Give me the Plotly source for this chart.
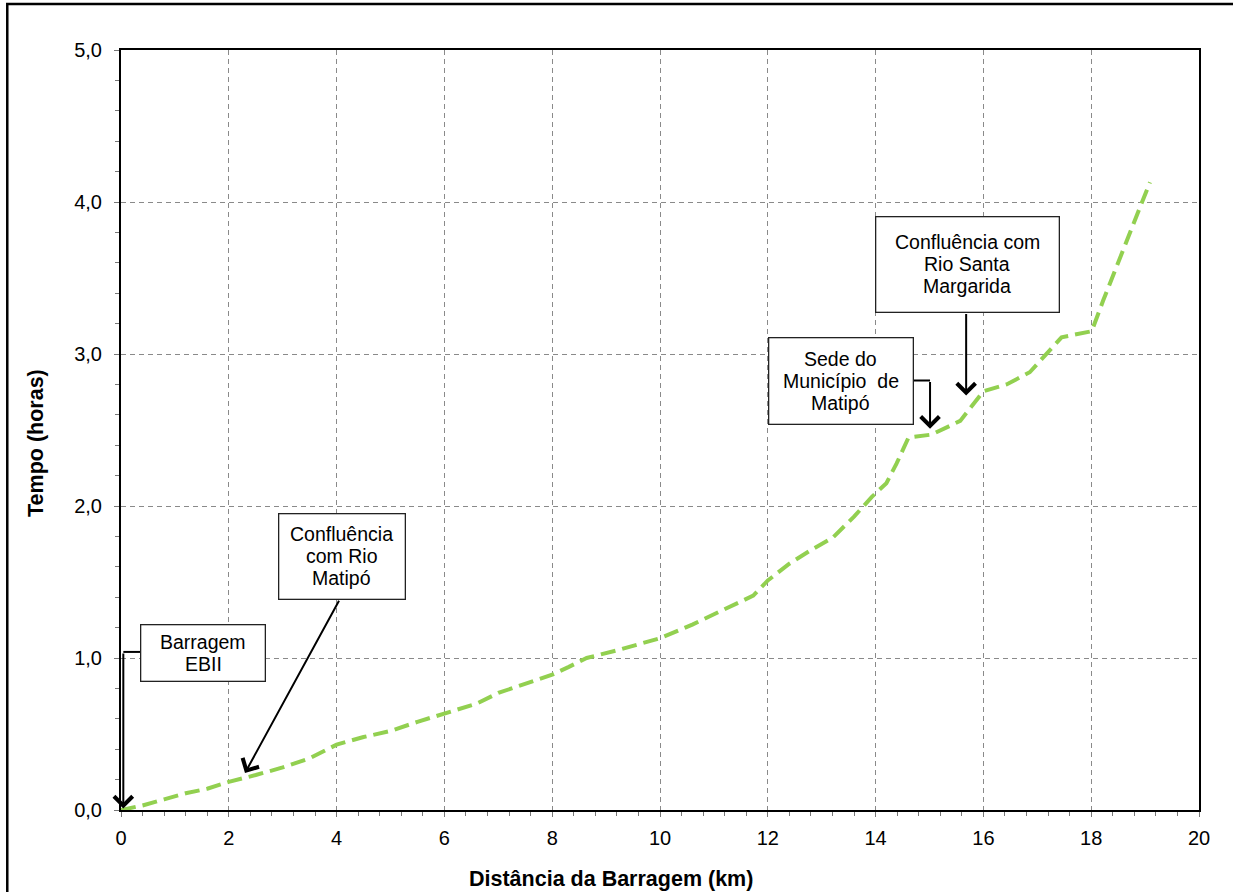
import plotly.graph_objects as go

# ---- data ----
dist_km = [0.0, 0.4, 0.8, 1.2, 1.6, 2.0, 2.5, 3.0, 3.5, 3.8, 4.0, 4.5, 5.0, 5.5, 6.0,
           6.6, 7.0, 7.5, 8.0, 8.3, 8.64, 9.2, 10.0, 10.6, 11.2, 11.73, 12.0, 12.4,
           12.8, 13.2, 13.6, 13.93, 14.2, 14.39, 14.61, 15.04, 15.57, 16.0, 16.43,
           16.86, 17.45, 18.01, 18.22, 18.94, 19.09]
tempo_h = [0.0, 0.03, 0.07, 0.11, 0.14, 0.185, 0.23, 0.28, 0.34, 0.39, 0.43, 0.48, 0.52,
           0.58, 0.635, 0.70, 0.77, 0.83, 0.89, 0.94, 1.00, 1.05, 1.13, 1.22, 1.32, 1.41,
           1.51, 1.62, 1.71, 1.79, 1.93, 2.06, 2.15, 2.28, 2.45, 2.47, 2.56, 2.755, 2.80,
           2.88, 3.11, 3.15, 3.35, 3.99, 4.13]

x_ticks = [0, 2, 4, 6, 8, 10, 12, 14, 16, 18, 20]
y_ticks = [0, 1, 2, 3, 4, 5]

x_title = "Distância da Barragem (km)"
y_title = "Tempo (horas)"

# annotation labels and where their boxes sit
labels = [["Barragem", "EBII"],
          ["Confluência", "com Rio", "Matipó"],
          ["Sede do", "Município  de", "Matipó"],
          ["Confluência com", "Rio Santa", "Margarida"]]
label_xy = [(1.53, 1.036), (4.094, 1.670), (13.355, 2.825), (15.70, 3.589)]
label_wh = [(123, 55), (125, 84), (143, 85), (182, 94)]

FONT = "Liberation Sans, Arial, sans-serif"
GREEN = "#92D050"
LINE_GAP = 22

fig = go.Figure()
fig.add_trace(go.Scatter(
    x=dist_km, y=tempo_h, mode="lines",
    line=dict(color=GREEN, width=4, dash="15px,7px"),
    hoverinfo="skip", showlegend=False))

annotations = []
for lines, (cx, cy), (w, h) in zip(labels, label_xy, label_wh):
    annotations.append(dict(
        x=cx, y=cy, xref="x", yref="y", text=" ", showarrow=False,
        bgcolor="white", bordercolor="#222", borderwidth=1.3, borderpad=0,
        width=w, height=h))
    n = len(lines)
    for i, ln in enumerate(lines):
        annotations.append(dict(
            x=cx, y=cy, xref="x", yref="y", text=ln, showarrow=False,
            font=dict(family=FONT, size=19.5, color="black"),
            yshift=((n - 1) / 2 - i) * LINE_GAP, xanchor="center", yanchor="middle"))

def arrow(x0, y0, x1, y1):
    return dict(x=x1, y=y1, ax=x0, ay=y0, xref="x", yref="y", axref="x", ayref="y",
                text="", showarrow=True, arrowhead=4, arrowsize=1.8, arrowwidth=2,
                arrowcolor="black", standoff=0)

annotations += [
    arrow(0.043, 1.04, 0.043, 0.01),
    arrow(4.06, 1.386, 2.30, 0.243),
    arrow(15.01, 2.825, 15.01, 2.508),
    arrow(15.68, 3.273, 15.68, 2.727),
]

# axis titles (placed as in the original, slightly off-centre)
annotations += [
    dict(xref="paper", yref="paper", x=0.4545, y=-0.0907, text=f"<b>{x_title}</b>",
         showarrow=False, font=dict(family=FONT, size=21.5, color="black"),
         xanchor="center", yanchor="middle"),
    dict(xref="paper", yref="paper", x=-0.0788, y=0.483, text=f"<b>{y_title}</b>",
         showarrow=False, textangle=-90, font=dict(family=FONT, size=21.5, color="black"),
         xanchor="center", yanchor="middle"),
]

shapes = [
    # connectors of the elbow callouts
    dict(type="line", xref="x", yref="y", x0=0.043, y0=1.04, x1=0.365, y1=1.04,
         line=dict(color="black", width=2)),
    dict(type="line", xref="x", yref="y", x0=13.98, y0=2.825, x1=15.01, y1=2.825,
         line=dict(color="black", width=2)),
    # outer chart frame
    dict(type="rect", xref="paper", yref="paper", x0=-0.1055, y0=-0.2, x1=1.2, y1=1.0605,
         line=dict(color="black", width=2.5), fillcolor="rgba(0,0,0,0)", layer="above"),
]

grid_dash = "5px,4px"
fig.update_layout(
    width=1233, height=892,
    margin=dict(l=121, r=34, t=50, b=82, autoexpand=False),
    paper_bgcolor="white", plot_bgcolor="white",
    separators=",.",
    font=dict(family=FONT, size=20, color="black"),
    showlegend=False,
    annotations=annotations,
    shapes=shapes,
    xaxis=dict(
        range=[0, 20], tickvals=x_ticks, ticktext=[str(v) for v in x_ticks],
        automargin=False,
        showgrid=True, gridcolor="#8a8a8a", gridwidth=1, griddash=grid_dash,
        showline=True, linecolor="black", linewidth=2, mirror=True,
        ticks="outside", ticklen=5, tickcolor="#777", tickwidth=1,
        ticklabelstandoff=4,
        minor=dict(dtick=0.4, tick0=0, ticks="outside", ticklen=4, tickcolor="#777",
                   showgrid=False),
        zeroline=False,
    ),
    yaxis=dict(
        range=[0, 5], tickvals=y_ticks, tickformat=".1f",
        automargin=False,
        showgrid=True, gridcolor="#8a8a8a", gridwidth=1, griddash=grid_dash,
        showline=True, linecolor="black", linewidth=2, mirror=True,
        ticks="outside", ticklen=5, tickcolor="#777", tickwidth=1,
        ticklabelstandoff=8,
        minor=dict(dtick=0.2, tick0=0, ticks="outside", ticklen=4, tickcolor="#777",
                   showgrid=False),
        zeroline=False,
    ),
)

fig.write_html("out.html", config=dict(displayModeBar=False),
               post_script="document.body.style.margin='0';document.body.style.overflow='hidden';")
